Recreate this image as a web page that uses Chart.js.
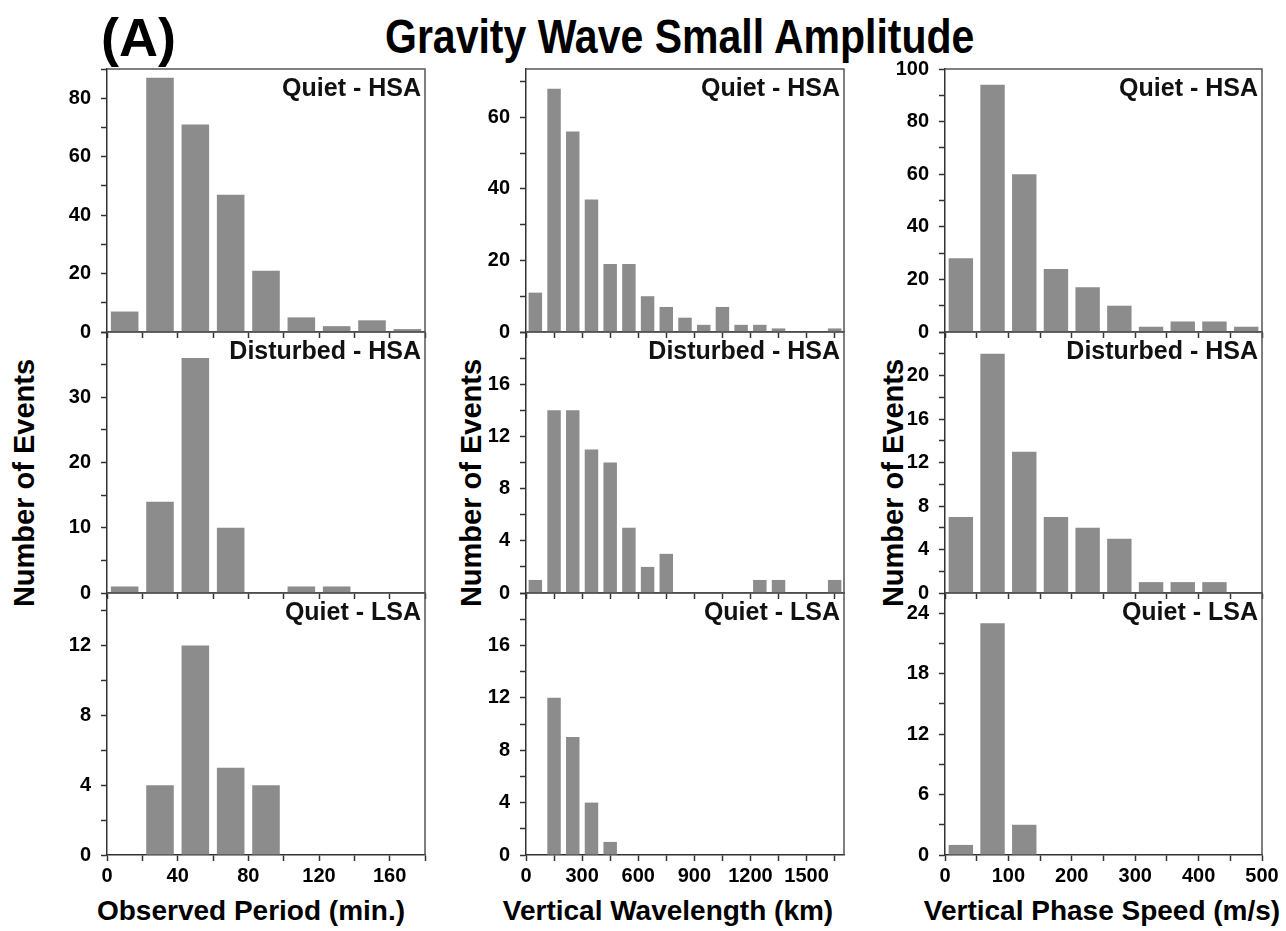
<!DOCTYPE html>
<html>
<head>
<meta charset="utf-8">
<script src="https://cdn.jsdelivr.net/npm/chart.js@4.4.1/dist/chart.umd.min.js"></script>
<style>
  body { margin: 0; width: 1286px; height: 931px; background: #fff; position: relative; overflow: hidden;
         font-family: "Liberation Sans", Arial, sans-serif; }
  canvas { position: absolute; }
  .txt { position: absolute; font-weight: bold; color: #000; white-space: nowrap; }
  #title { left: 385px; top: 10px; font-size: 41px; transform: scaleY(1.15); transform-origin: left top; }
  #tag { left: 101px; top: 6px; font-size: 54px; }
  .ylab { font-size: 29px; transform: translate(-50%, -50%) rotate(-90deg); }
  .xlab { font-size: 28px; transform: translate(-50%, -50%); top: 911px; }
</style>
</head>
<body>
<div class="txt" id="tag">(A)</div>
<div class="txt" id="title">Gravity Wave Small Amplitude</div>
<div class="txt ylab" style="left:24px;top:483px">Number of Events</div>
<div class="txt ylab" style="left:471px;top:483px">Number of Events</div>
<div class="txt ylab" style="left:893px;top:483px">Number of Events</div>
<div class="txt xlab" style="left:251px">Observed Period (min.)</div>
<div class="txt xlab" style="left:668px">Vertical Wavelength (km)</div>
<div class="txt xlab" style="left:1102px">Vertical Phase Speed (m/s)</div>

<script>
// --- data ---
// bin centres
const periodBins = [10, 30, 50, 70, 90, 110, 130, 150, 170];
const wavelengthBins = [50, 150, 250, 350, 450, 550, 650, 750, 850, 950, 1050, 1150, 1250, 1350, 1450, 1550, 1650];
const speedBins = [25, 75, 125, 175, 225, 275, 325, 375, 425, 475];

// observed period (min.)
const periodQuietHSA = [7, 87, 71, 47, 21, 5, 2, 4, 1];
const periodDisturbedHSA = [1, 14, 36, 10, 0, 1, 1, 0, 0];
const periodQuietLSA = [0, 4, 12, 5, 4, 0, 0, 0, 0];

// vertical wavelength (km)
const wavelengthQuietHSA = [11, 68, 56, 37, 19, 19, 10, 7, 4, 2, 7, 2, 2, 1, 0, 0, 1];
const wavelengthDisturbedHSA = [1, 14, 14, 11, 10, 5, 2, 3, 0, 0, 0, 0, 1, 1, 0, 0, 1];
const wavelengthQuietLSA = [0, 12, 9, 4, 1, 0, 0, 0, 0, 0, 0, 0, 0, 0, 0, 0, 0];

// vertical phase speed (m/s)
const speedQuietHSA = [28, 94, 60, 24, 17, 10, 2, 4, 4, 2];
const speedDisturbedHSA = [7, 22, 13, 7, 6, 5, 1, 1, 1, 0];
const speedQuietLSA = [1, 23, 3, 0, 0, 0, 0, 0, 0, 0];

const rowNames = ["Quiet - HSA", "Disturbed - HSA", "Quiet - LSA"];

// axis ranges: max, minor step, labelled step
const periodX = { max: 180, step: 20, label: 40 };
const wavelengthX = { max: 1700, step: 150, label: 300 };
const speedX = { max: 500, step: 50, label: 100 };

const periodY = [{ max: 90, step: 10, label: 20 }, { max: 40, step: 5, label: 10, hideTop: true }, { max: 15, step: 2, label: 4 }];
const wavelengthY = [{ max: 73.5, step: 10, label: 20 }, { max: 20, step: 2, label: 4, hideTop: true }, { max: 20, step: 2, label: 4, hideTop: true }];
const speedY = [{ max: 100, step: 10, label: 20 }, { max: 24, step: 2, label: 4, hideTop: true }, { max: 26, step: 3, label: 6 }];

// --- layout ---
const cols = [{ L: 107, R: 425 }, { L: 526, R: 844 }, { L: 945, R: 1262 }];
const rows = [{ T: 69, B: 332 }, { T: 332, B: 593 }, { T: 593, B: 855 }];
const yW = 100, padT = 14, padR = 24;

const FONT = '"Liberation Sans", Arial, sans-serif';
Chart.defaults.font.family = FONT;
Chart.defaults.font.weight = "bold";
Chart.defaults.color = "#000";

const axisColor = "#333";
const barColor = "#8c8c8c";

// frame + panel caption
const panelDeco = {
  id: "panelDeco",
  afterDraw(chart, args, opts) {
    const { ctx, chartArea: a } = chart;
    ctx.save();
    ctx.strokeStyle = "#555";
    ctx.lineWidth = 1.5;
    ctx.beginPath();
    ctx.moveTo(a.left, a.top);
    ctx.lineTo(a.right, a.top);
    ctx.lineTo(a.right, a.bottom);
    ctx.stroke();
    ctx.font = "bold 25px " + FONT;
    ctx.fillStyle = "#111";
    ctx.textAlign = "right";
    ctx.textBaseline = "top";
    ctx.fillText(opts.text, a.right - 4, a.top + 8);
    ctx.restore();
  }
};

function makePanel(c, r, bins, values, xCfg, yCfg, barPct) {
  const col = cols[c], row = rows[r];
  const bottomRow = r === 2;
  const xH = bottomRow ? 40 : 8;
  const canvas = document.createElement("canvas");
  canvas.width = col.R - col.L + yW + padR;
  canvas.height = row.B - row.T + padT + xH;
  canvas.style.left = (col.L - yW) + "px";
  canvas.style.top = (row.T - padT) + "px";
  document.body.appendChild(canvas);

  new Chart(canvas.getContext("2d"), {
    type: "bar",
    data: {
      datasets: [{
        data: bins.map((b, i) => ({ x: b, y: values[i] })),
        backgroundColor: barColor,
        borderWidth: 0,
        barPercentage: 1,
        categoryPercentage: barPct
      }]
    },
    options: {
      responsive: false,
      animation: false,
      devicePixelRatio: 1,
      layout: { padding: { top: padT, right: padR, left: 0, bottom: 0 } },
      plugins: {
        legend: { display: false },
        tooltip: { enabled: false },
        panelDeco: { text: rowNames[r] }
      },
      scales: {
        x: {
          type: "linear",
          min: 0,
          max: xCfg.max,
          offset: false,
          grid: { offset: false, drawOnChartArea: false, drawTicks: true, tickLength: 6, tickColor: axisColor, tickWidth: 1.5 },
          border: { display: true, color: axisColor, width: 1.5 },
          ticks: {
            stepSize: xCfg.step,
            includeBounds: false,
            maxRotation: 0,
            autoSkip: false,
            padding: 3,
            font: { size: 20, weight: "bold" },
            display: bottomRow,
            callback: v => (v % xCfg.label === 0 ? v : "")
          },
          afterFit: s => {
            s.height = xH;
            s.paddingLeft = 0;
            s.paddingRight = 0;
          }
        },
        y: {
          min: 0,
          max: yCfg.max,
          grid: { drawOnChartArea: false, drawTicks: true, tickLength: 6, tickColor: axisColor, tickWidth: 1.5 },
          border: { display: true, color: axisColor, width: 1.5 },
          ticks: {
            stepSize: yCfg.step,
            includeBounds: false,
            autoSkip: false,
            padding: 10,
            font: { size: 20, weight: "bold" },
            callback: v => (v % yCfg.label === 0 && !(yCfg.hideTop && v === yCfg.max) ? v : "")
          },
          afterFit: s => {
            s.width = yW;
            s.paddingTop = 0;
            s.paddingBottom = 0;
          }
        }
      }
    },
    plugins: [panelDeco]
  });
}

const columns = [
  { bins: periodBins, series: [periodQuietHSA, periodDisturbedHSA, periodQuietLSA], x: periodX, y: periodY, pct: 0.78 },
  { bins: wavelengthBins, series: [wavelengthQuietHSA, wavelengthDisturbedHSA, wavelengthQuietLSA], x: wavelengthX, y: wavelengthY, pct: 0.72 },
  { bins: speedBins, series: [speedQuietHSA, speedDisturbedHSA, speedQuietLSA], x: speedX, y: speedY, pct: 0.77 }
];

columns.forEach((cd, c) => {
  cd.series.forEach((vals, r) => makePanel(c, r, cd.bins, vals, cd.x, cd.y[r], cd.pct));
});
</script>
</body>
</html>
